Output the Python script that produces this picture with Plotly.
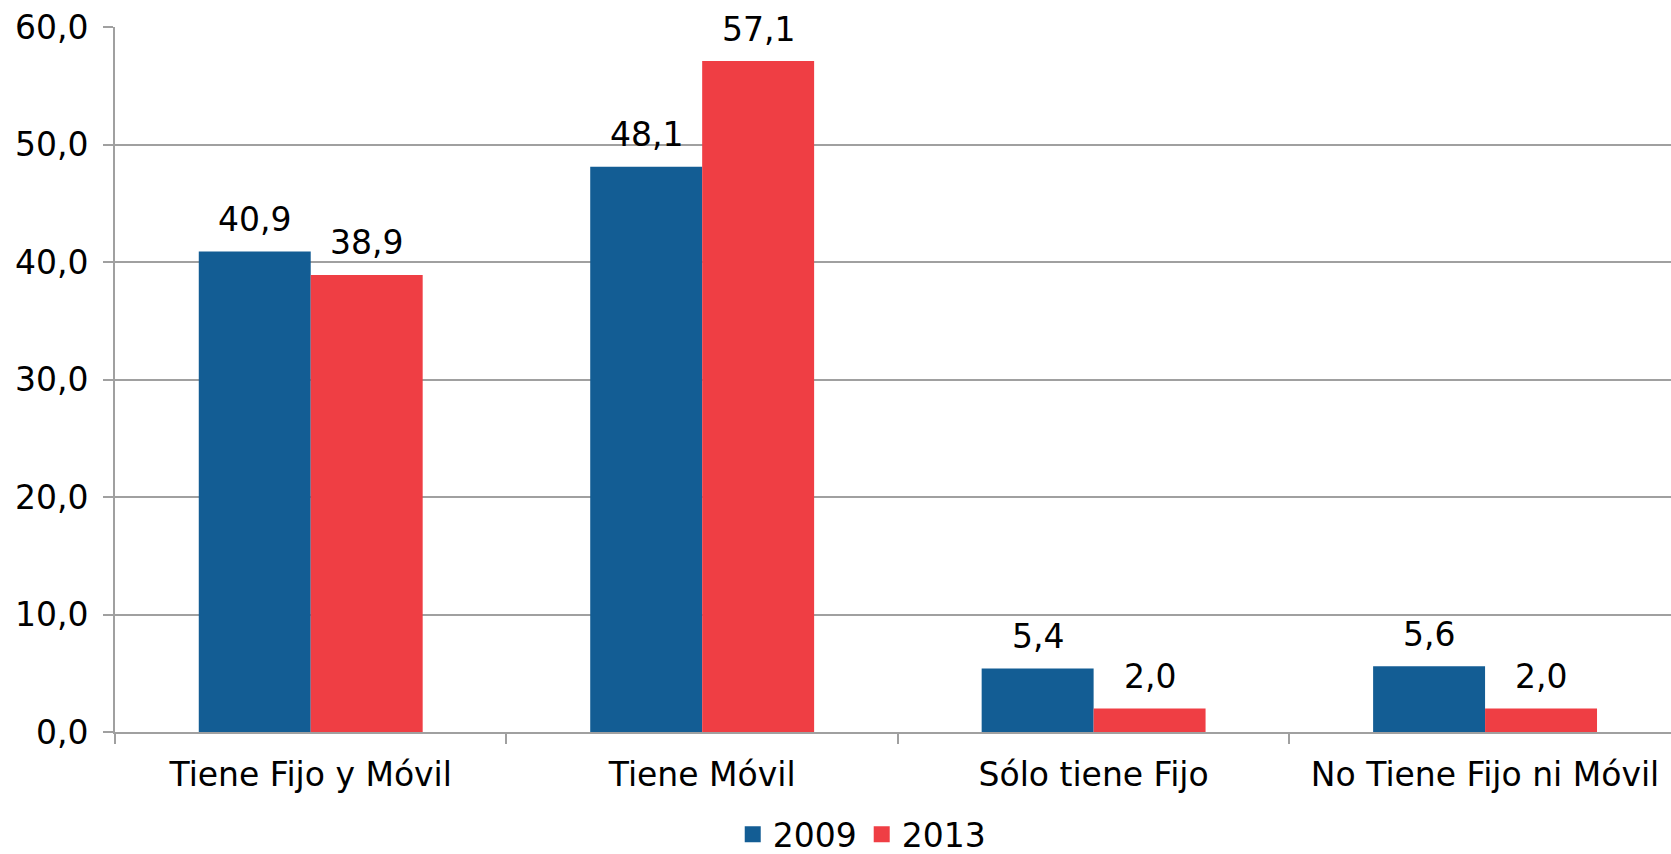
import plotly.graph_objects as go

# datos
categorias = ["Tiene Fijo y Móvil", "Tiene Móvil", "Sólo tiene Fijo", "No Tiene Fijo ni Móvil"]
v2009 = [40.9, 48.1, 5.4, 5.6]
v2013 = [38.9, 57.1, 2.0, 2.0]
y_ticks = [0, 10, 20, 30, 40, 50, 60]

azul = "#135D94"
rojo = "#EF3E44"
gris = "#A0A0A0"
fuente = "DejaVu Sans"
tam = 33


def coma(v):
    return f"{v:.1f}".replace(".", ",")


fig = go.Figure()
fig.add_trace(go.Bar(name="2009", x=categorias, y=v2009, marker_color=azul,
                     marker_line_width=0, showlegend=False))
fig.add_trace(go.Bar(name="2013", x=categorias, y=v2013, marker_color=rojo,
                     marker_line_width=0, showlegend=False))

# leyenda con cuadrados más grandes
for nombre, color in (("2009", azul), ("2013", rojo)):
    fig.add_trace(go.Scatter(x=[None], y=[None], mode="markers", name=nombre,
                             marker=dict(symbol="square", size=18, color=color)))

# etiquetas de datos sobre cada barra
for serie, desplaz in ((v2009, -56), (v2013, 56)):
    for cat, v in zip(categorias, serie):
        fig.add_annotation(x=cat, y=v, text=coma(v), showarrow=False,
                           xshift=desplaz, yshift=32, yanchor="middle",
                           font=dict(size=tam, color="black", family=fuente))

fig.update_layout(
    width=1671, height=854,
    margin=dict(l=115, r=0, t=27, b=122, autoexpand=False),
    paper_bgcolor="white", plot_bgcolor="white",
    font=dict(family=fuente, size=tam, color="black"),
    barmode="group", bargap=0.428, bargroupgap=0,
    showlegend=True,
    legend=dict(orientation="h", x=0.397, xanchor="left", y=-0.145, yanchor="middle",
                font=dict(size=tam), itemwidth=30, tracegroupgap=0),
)
fig.update_xaxes(range=[-0.5, 3.475], showline=True, linecolor=gris, linewidth=2,
                 ticks="outside", tickson="boundaries", ticklen=10, tickcolor=gris,
                 tickwidth=2, ticklabelstandoff=12, showgrid=False)
fig.update_yaxes(range=[0, 60], tickvals=y_ticks, ticktext=[coma(t) for t in y_ticks],
                 showline=True, linecolor=gris, linewidth=2, ticks="outside",
                 ticklen=10, tickcolor=gris, tickwidth=2, ticklabelstandoff=8,
                 showgrid=True, gridcolor=gris, gridwidth=2, zeroline=False)

# sin margen del body para que la figura ocupe toda la ventana
fig.write_html("out.html", config={"displayModeBar": False},
               post_script="document.body.style.margin='0';")
